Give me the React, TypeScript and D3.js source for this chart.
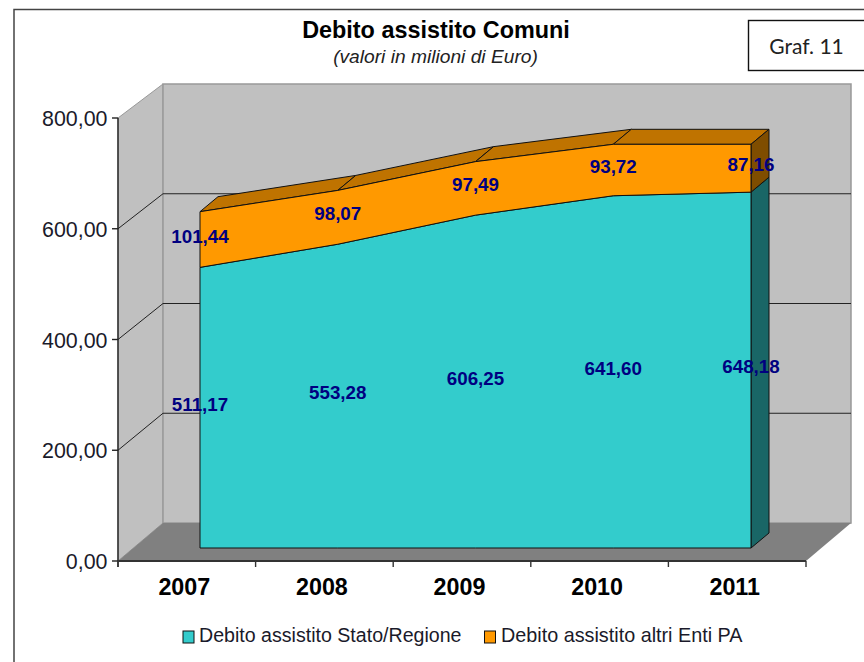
import React from "react";
import * as d3 from "d3";

const years = ["2007", "2008", "2009", "2010", "2011"];
const statoRegione = [511.17, 553.28, 606.25, 641.6, 648.18];
const altriEnti = [101.44, 98.07, 97.49, 93.72, 87.16];
const axisTicks = [0, 200, 400, 600, 800];
const seriesNames = ["Debito assistito Stato/Regione", "Debito assistito altri Enti PA"];

const W = 864;
const H = 662;
const ARIAL = "'Liberation Sans', Arial, sans-serif";

// Front edge of the floor and the back wall, as pixel ranges of the value axis.
const yFront = d3.scaleLinear().domain([0, 800]).range([561, 118]);
const yBack = d3.scaleLinear().domain([0, 800]).range([523, 84]);
// The area solid sits between the two, with its own front plane.
const ySolid = d3.scaleLinear().domain([0, 800]).range([548, 108.8]);
const xCat = d3.scaleLinear().domain([0, 4]).range([200, 751]);
const xBand = d3.scaleLinear().domain([0, 5]).range([118, 806]);

const DEPTH_X = 45;
const SOLID_DX = 18;
const SOLID_DY = -15;

const num = d3.format(".2f");
const fmt = (v: number) => num(v).replace(".", ",");
const pts = (p: [number, number][]) => p.map((q) => q.join(",")).join(" ");

const totals = statoRegione.map((v, i) => v + altriEnti[i]);
const stack: [number, number][][] = [
  statoRegione.map((v) => [0, v]),
  statoRegione.map((v, i) => [v, totals[i]]),
];
const faceColors = ["#33CCCC", "#FF9900"];
const sideColors = ["#196666", "#7F4D00"];
const topColor = "#BF7300";

export default function App() {
  const left = xBand(0);
  const right = xBand(5);
  const bl = xBand(0) + DEPTH_X;
  const br = xBand(5) + DEPTH_X;
  const last = years.length - 1;
  const shift = ([x, y]: [number, number]): [number, number] => [x + SOLID_DX, y + SOLID_DY];

  const faceArea = d3
    .area<[number, number]>()
    .x((_, i) => xCat(i))
    .y0((d) => ySolid(d[0]))
    .y1((d) => ySolid(d[1]));

  return (
    <svg
      width={W}
      height={H}
      viewBox={`0 0 ${W} ${H}`}
      style={{ position: "absolute", left: 0, top: 0, background: "#fff" }}
    >
      {/* outer frame, open on the right and bottom */}
      <path d={`M14,${H} V9.5 H${W}`} fill="none" stroke="#444" strokeWidth={1.5} />

      <text x={436} y={38} textAnchor="middle" fontFamily={ARIAL} fontWeight="bold" fontSize={23.4}>
        Debito assistito Comuni
      </text>
      <text x={435.5} y={63} textAnchor="middle" fontFamily={ARIAL} fontStyle="italic" fontSize={19.2} fill="#222">
        (valori in milioni di Euro)
      </text>

      <rect x={748.5} y={20.5} width={W} height={50} fill="#fff" stroke="#111" strokeWidth={1.4} />
      <text x={806.5} y={54} textAnchor="middle" fontFamily="Lato, 'Open Sans', sans-serif" fontSize={21} fill="#222">
        Graf. 11
      </text>

      {/* walls and floor */}
      <polygon
        points={pts([[left, yFront(800)], [bl, yBack(800)], [bl, yBack(0)], [left, yFront(0)]])}
        fill="#C0C0C0"
        stroke="#999"
      />
      <rect x={bl} y={yBack(800)} width={br - bl} height={yBack(0) - yBack(800)} fill="#C0C0C0" stroke="#999" strokeWidth={1.5} />
      <polygon
        points={pts([[left, yFront(0)], [bl, yBack(0)], [br, yBack(0)], [right, yFront(0)]])}
        fill="#808080"
      />

      {/* gridlines across the side and back walls */}
      {axisTicks.slice(1, -1).map((t) => (
        <path
          key={t}
          d={`M${left},${yFront(t)} L${bl},${yBack(t)} H${br}`}
          fill="none"
          stroke="#222"
          strokeWidth={1}
        />
      ))}

      {/* the stacked solid: top faces, right end, then front faces */}
      {years.slice(0, -1).map((_, i) => {
        const a: [number, number] = [xCat(i), ySolid(totals[i])];
        const b: [number, number] = [xCat(i + 1), ySolid(totals[i + 1])];
        return (
          <polygon key={i} points={pts([a, b, shift(b), shift(a)])} fill={topColor} stroke="#111" strokeWidth={1} />
        );
      })}
      {stack.map((s, k) => {
        const [lo, hi] = s[last];
        const x = xCat(last);
        const a: [number, number] = [x, ySolid(lo)];
        const b: [number, number] = [x, ySolid(hi)];
        return (
          <polygon key={k} points={pts([a, b, shift(b), shift(a)])} fill={sideColors[k]} stroke="#111" strokeWidth={1} />
        );
      })}
      {stack.map((s, k) => (
        <path key={k} d={faceArea(s) ?? ""} fill={faceColors[k]} stroke="#111" strokeWidth={1} />
      ))}

      {/* value axis */}
      <line x1={left} x2={left} y1={yFront(800)} y2={yFront(0) + 6} stroke="#222" strokeWidth={1.4} />
      {axisTicks.map((t) => (
        <g key={t}>
          <line x1={left - 6} x2={left} y1={yFront(t)} y2={yFront(t)} stroke="#222" strokeWidth={1.4} />
          <text x={107.5} y={yFront(t) + 8} textAnchor="end" fontFamily={ARIAL} fontSize={21.4} fill="#1a1a2a">
            {fmt(t)}
          </text>
        </g>
      ))}

      {/* category axis */}
      <line x1={left} x2={right} y1={yFront(0)} y2={yFront(0)} stroke="#333" strokeWidth={2} />
      {d3.range(6).map((i) => (
        <line key={i} x1={xBand(i)} x2={xBand(i)} y1={yFront(0)} y2={yFront(0) + 6} stroke="#333" strokeWidth={1.4} />
      ))}
      {years.map((y, i) => (
        <text key={y} x={xBand(i + 0.5) - 2.5} y={595} textAnchor="middle" fontFamily={ARIAL} fontWeight="bold" fontSize={23.3}>
          {y}
        </text>
      ))}

      {/* data labels centred on each band */}
      {stack.map((s, k) =>
        s.map(([lo, hi], i) => (
          <text
            key={`${k}-${i}`}
            x={xCat(i)}
            y={ySolid((lo + hi) / 2) + 3}
            textAnchor="middle"
            fontFamily={ARIAL}
            fontWeight="bold"
            fontSize={18.8}
            fill="#000080"
          >
            {fmt(hi - lo)}
          </text>
        ))
      )}

      {/* legend */}
      <rect x={183} y={631} width={11} height={12} fill={faceColors[0]} stroke="#111" />
      <text x={199} y={642} fontFamily={ARIAL} fontSize={19.6} fill="#1a1a2a">
        {seriesNames[0]}
      </text>
      <rect x={484.5} y={631} width={11} height={12} fill={faceColors[1]} stroke="#111" />
      <text x={501} y={642} fontFamily={ARIAL} fontSize={19.8} fill="#1a1a2a">
        {seriesNames[1]}
      </text>
    </svg>
  );
}
